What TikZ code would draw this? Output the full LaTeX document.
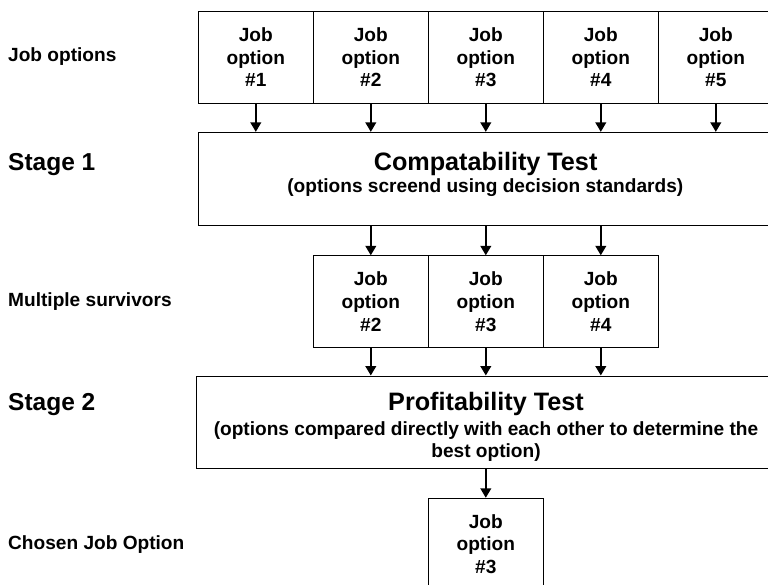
\documentclass[tikz,border=0pt]{standalone}
\usepackage{fontspec}
\setmainfont{Liberation Sans}
\usetikzlibrary{arrows.meta}

\begin{document}
\begin{tikzpicture}[x=1pt,y=-1pt,
  smallbf/.style={font=\fontsize{19.1}{22.7}\selectfont\bfseries},
  optbox/.style={draw, line width=0.9pt, minimum width=115pt, minimum height=91.4pt,
    align=center, inner sep=0pt, smallbf},
  testbox/.style={draw, line width=0.9pt, inner sep=0pt},
  title/.style={font=\fontsize{25.2}{30}\selectfont\bfseries, inner sep=0pt, anchor=base},
  subtitle/.style={smallbf, inner sep=0pt, anchor=base, align=center},
  rowlabel/.style={smallbf, inner sep=0pt, anchor=base west},
  stagelabel/.style={font=\fontsize{24.5}{29}\selectfont\bfseries, inner sep=0pt, anchor=base west},
  arr/.style={-{Triangle[length=9.5pt,width=10.5pt]}, line width=2.2pt}
]
\useasboundingbox (0,0) rectangle (768,584);

% row labels on the left
\node[rowlabel]   (lab0) at (8,61.7)  {Job options};
\node[stagelabel] (lab1) at (8,170)   {Stage 1};
\node[rowlabel]   (lab2) at (8,306.7) {Multiple survivors};
\node[stagelabel] (lab3) at (8,410)   {Stage 2};
\node[rowlabel]   (lab4) at (8,549.3) {Chosen Job Option};

% the five job options
\node[optbox] (t1) at (255.8,57.3) {Job\\option\\\#1};
\node[optbox] (t2) at (370.8,57.3) {Job\\option\\\#2};
\node[optbox] (t3) at (485.8,57.3) {Job\\option\\\#3};
\node[optbox] (t4) at (600.8,57.3) {Job\\option\\\#4};
\node[optbox] (t5) at (715.8,57.3) {Job\\option\\\#5};

% stage 1: compatibility test
\node[testbox, minimum width=574.7pt, minimum height=92.7pt] (c) at (485.7,178.7) {};
\node[title]    (ct) at (485.6,170)   {Compatability Test};
\node[subtitle] (cs) at (485.3,192.5) {(options screend using decision standards)};

% survivors
\node[optbox] (m2) at (370.8,301.5) {Job\\option\\\#2};
\node[optbox] (m3) at (485.8,301.5) {Job\\option\\\#3};
\node[optbox] (m4) at (600.8,301.5) {Job\\option\\\#4};

% stage 2: profitability test (base anchor sits on the last line)
\node[testbox, minimum width=580pt, minimum height=92pt] (p) at (486,422) {};
\node[title]    (pt) at (486,410) {Profitability Test};
\node[subtitle, font=\fontsize{19.1}{21.8}\selectfont\bfseries] (ps) at (486,457.3)
  {(options compared directly with each other to determine the\\best option)};

% the chosen option
\node[optbox] (f) at (485.8,544) {Job\\option\\\#3};

% connectors
\foreach \n in {t1,t2,t3,t4,t5}
  \draw[arr] (\n.south) -- (\n.south |- c.north);
\foreach \n in {m2,m3,m4}
  \draw[arr] (\n.north |- c.south) -- (\n.north);
\foreach \n in {m2,m3,m4}
  \draw[arr] (\n.south) -- (\n.south |- p.north);
\draw[arr] (f.north |- p.south) -- (f.north);
\end{tikzpicture}
\end{document}
